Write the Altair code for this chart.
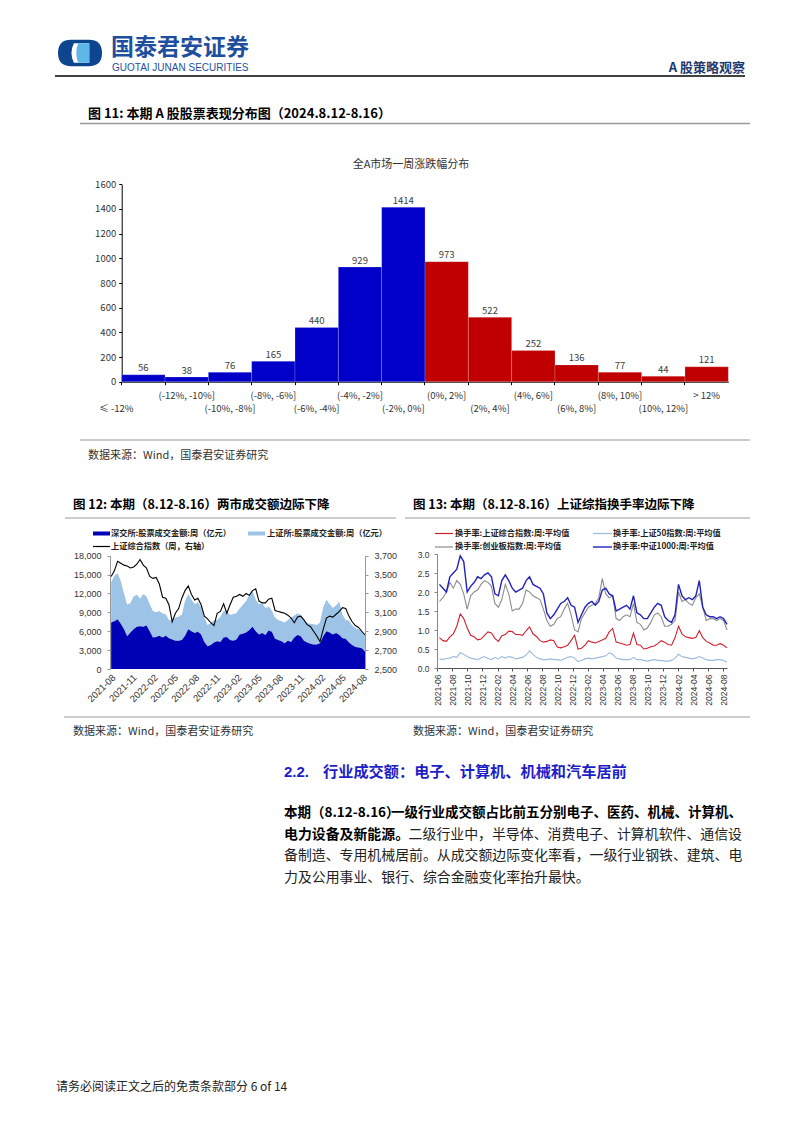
import altair as alt
import pandas as pd

CJK = "Noto Sans CJK SC"
ARIAL = "Liberation Sans"
PAGE_W, PAGE_H = 802, 1133

# ---------------- Figure 11: distribution of weekly returns ----------------
cats11 = ["≤ -12%", "(-12%, -10%]", "(-10%, -8%]", "(-8%, -6%]", "(-6%, -4%]",
          "(-4%, -2%]", "(-2%, 0%]", "(0%, 2%]", "(2%, 4%]", "(4%, 6%]",
          "(6%, 8%]", "(8%, 10%]", "(10%, 12%]", "> 12%"]
counts11 = [56, 38, 76, 165, 440, 929, 1414, 973, 522, 252, 136, 77, 44, 121]
sides11 = ["down"] * 7 + ["up"] * 7
yticks11 = [0, 200, 400, 600, 800, 1000, 1200, 1400, 1600]

# ---------------- Figure 12: weekly turnover (亿元) and SSE index ----------------
sz12 = [7400, 7600, 7900, 7200, 6300, 5200, 5800, 6300, 6700, 6800,
        6700, 6900, 6000, 5000, 5100, 5300, 5000, 5300, 4900, 4700,
        4500, 4500, 4600, 5300, 6300, 6000, 5700, 5900, 5500, 4300,
        3600, 3800, 4200, 4400, 4300, 5000, 5100, 4600, 4500, 4700,
        5500, 5600, 5800, 6200, 6700, 6000, 5500, 5700, 5400, 6100,
        5900, 4800, 4600, 4400, 4100, 4500, 4300, 5000, 5400, 5200,
        4500, 4200, 4000, 3900, 3900, 4100, 5200, 6000, 5800, 5500,
        5700, 5400, 4900, 4800, 4200, 3800, 3500, 3400, 3300, 2800]
sh12 = [6400, 7200, 7300, 6800, 5700, 5000, 4700, 5200, 5100, 4400,
        5200, 4600, 4300, 4200, 3900, 3900, 3800, 3400, 2900, 3000,
        3700, 3800, 4000, 5500, 5600, 5000, 4600, 4700, 4300, 3900,
        3400, 3500, 3500, 3400, 4000, 4200, 4000, 4000, 4200, 4200,
        4100, 4600, 5000, 5600, 5700, 5000, 4800, 4800, 4300, 3800,
        3400, 3400, 3200, 3200, 3300, 3300, 3900, 3500, 3400, 3400,
        3200, 3100, 3200, 3200, 3100, 3300, 4600, 5000, 4500, 4200,
        4400, 5300, 3700, 3000, 3500, 3100, 3000, 2900, 2700, 2600]
sse12 = [3480, 3540, 3640, 3620, 3600, 3590, 3570, 3580, 3610, 3660,
         3600, 3570, 3480, 3460, 3470, 3400, 3260, 3250, 3180, 3000,
         3090, 3140, 3250, 3330, 3380, 3290, 3230, 3250, 3180, 3060,
         3030, 2990, 2960, 3090, 3110, 3190, 3090, 3180, 3260, 3270,
         3290, 3270, 3300, 3280, 3330, 3350, 3220, 3200, 3200, 3240,
         3250, 3120, 3110, 3100, 3090, 3070, 3040, 2990, 3050, 3060,
         3020, 2970, 2950, 2900, 2850, 2790, 2920, 3040, 3060, 3050,
         3080, 3110, 3150, 3140, 3060, 3000, 2960, 2940, 2900, 2860]
dates12 = pd.date_range("2021-08-06", periods=len(sz12), freq="14D")
xticks12 = ["2021-08", "2021-11", "2022-02", "2022-05", "2022-08", "2022-11", "2023-02",
            "2023-05", "2023-08", "2023-11", "2024-02", "2024-05", "2024-08"]
yticks12L = [0, 3000, 6000, 9000, 12000, 15000, 18000]
yticks12R = [2500, 2700, 2900, 3100, 3300, 3500, 3700]

# ---------------- Figure 13: weekly average turnover rate (%) ----------------
tr_sse = [0.80, 0.72, 0.70, 0.82, 0.90, 1.10, 1.42, 1.30, 1.05, 0.86,
          0.82, 0.74, 0.76, 0.86, 0.95, 0.92, 0.78, 0.70, 0.85, 0.88,
          0.97, 0.96, 0.88, 0.88, 0.86, 0.98, 1.08, 0.90, 0.83, 0.72,
          0.68, 0.70, 0.74, 0.72, 0.55, 0.53, 0.56, 0.60, 0.72, 0.86,
          0.50, 0.52, 0.60, 0.72, 0.68, 0.66, 0.70, 0.74, 0.78, 0.95,
          1.04, 0.68, 0.66, 0.63, 0.60, 0.62, 0.92, 0.62, 0.60, 0.50,
          0.52, 0.56, 0.58, 0.64, 0.72, 0.68, 0.62, 0.60, 0.80, 1.10,
          0.90, 0.82, 0.80, 0.78, 0.80, 0.98, 0.80, 0.70, 0.66, 0.60,
          0.60, 0.64, 0.60, 0.53]
tr_50 = [0.24, 0.22, 0.25, 0.26, 0.30, 0.28, 0.40, 0.36, 0.30, 0.26,
         0.24, 0.22, 0.26, 0.30, 0.25, 0.22, 0.28, 0.24, 0.30, 0.26,
         0.30, 0.28, 0.24, 0.26, 0.28, 0.34, 0.45, 0.36, 0.28, 0.24,
         0.22, 0.22, 0.24, 0.22, 0.22, 0.20, 0.24, 0.28, 0.30, 0.26,
         0.17, 0.20, 0.24, 0.26, 0.24, 0.26, 0.28, 0.30, 0.32, 0.40,
         0.36, 0.26, 0.24, 0.22, 0.22, 0.22, 0.28, 0.22, 0.22, 0.20,
         0.18, 0.20, 0.22, 0.20, 0.20, 0.18, 0.18, 0.20, 0.26, 0.36,
         0.30, 0.28, 0.26, 0.24, 0.26, 0.30, 0.26, 0.22, 0.20, 0.20,
         0.22, 0.22, 0.20, 0.15]
tr_cyb = [1.75, 1.85, 2.00, 2.25, 2.10, 2.30, 2.20, 1.95, 1.55, 1.90,
          2.00, 2.05, 2.20, 2.30, 2.25, 2.15, 1.70, 1.60, 1.80, 2.20,
          1.95, 1.50, 1.55, 1.55, 1.70, 2.05, 2.00, 1.90, 1.85, 1.80,
          1.55, 1.25, 1.10, 1.15, 1.30, 1.35, 1.55, 1.70, 1.40, 1.00,
          0.95, 1.30, 1.45, 1.60, 1.65, 1.70, 1.85, 2.35, 1.95, 1.85,
          1.90, 1.30, 1.25, 1.35, 1.40, 1.35, 1.70, 1.20, 1.15, 1.00,
          1.05, 1.20, 1.40, 1.45, 1.35, 1.10, 1.10, 1.15, 1.25, 2.00,
          1.75, 1.80, 1.70, 1.65, 1.85, 1.95, 1.60, 1.25, 1.30, 1.30,
          1.25, 1.30, 1.25, 1.00]
tr_1000 = [2.20, 2.10, 2.00, 2.40, 2.50, 2.60, 2.95, 2.80, 2.00, 2.15,
           2.25, 2.40, 2.35, 2.45, 2.50, 2.40, 1.95, 1.90, 2.30, 2.45,
           2.30, 2.10, 2.00, 2.05, 2.10, 2.30, 2.40, 2.20, 2.15, 2.10,
           1.95, 1.45, 1.30, 1.40, 1.55, 1.70, 1.75, 1.85, 1.65, 1.60,
           1.20, 1.40, 1.60, 1.70, 1.75, 1.65, 1.75, 2.05, 2.10, 1.95,
           1.90, 1.50, 1.55, 1.60, 1.65, 1.55, 1.90, 1.45, 1.40, 1.30,
           1.30, 1.45, 1.60, 1.70, 1.65, 1.35, 1.25, 1.20, 1.40, 2.20,
           1.90, 1.80, 1.85, 1.80, 1.90, 2.30, 1.60, 1.40, 1.35, 1.35,
           1.30, 1.35, 1.30, 1.15]
dates13 = pd.date_range("2021-06-11", periods=len(tr_sse), freq="14D")
xticks13 = ["2021-06", "2021-08", "2021-10", "2021-12", "2022-02", "2022-04", "2022-06",
            "2022-08", "2022-10", "2022-12", "2023-02", "2023-04", "2023-06", "2023-08",
            "2023-10", "2023-12", "2024-02", "2024-04", "2024-06", "2024-08"]
yticks13 = [0.0, 0.5, 1.0, 1.5, 2.0, 2.5, 3.0]


def ym(s, day=1):
    y, m = s.split("-")
    return alt.DateTime(year=int(y), month=int(m), date=day)


dummy = pd.DataFrame({"k": [0]})


def text(x, y, s, size=12, weight="normal", color="#000000", align="left", font=CJK):
    return alt.Chart(dummy).mark_text(
        text=s, align=align, baseline="middle", fontSize=size, fontWeight=weight,
        color=color, font=font
    ).encode(x=alt.value(x), y=alt.value(y))


def hrule(x1, x2, y, color="#000000", width=1.0):
    return alt.Chart(dummy).mark_rule(color=color, strokeWidth=width).encode(
        x=alt.value(x1), x2=alt.value(x2), y=alt.value(y))


def swatch(x1, x2, y1, y2, color):
    return alt.Chart(dummy).mark_rect(color=color).encode(
        x=alt.value(x1), x2=alt.value(x2), y=alt.value(y1), y2=alt.value(y2))


def logo_part(path, color, size):
    return alt.Chart(dummy).mark_point(shape=path, size=size, filled=True, color=color,
                                       opacity=1, strokeWidth=0).encode(
        x=alt.value(80), y=alt.value(53))


layers = []
# header
layers.append(logo_part("M -0.4 -0.6 L 0.4 -0.6 Q 1 -0.6 1 0 Q 1 0.6 0.4 0.6 L -0.4 0.6 "
                        "Q -1 0.6 -1 0 Q -1 -0.6 -0.4 -0.6 Z", "#0E458F", 1936))
layers.append(logo_part("M -0.28 -0.44 L 0.42 -0.44 L 0.42 0.44 L -0.28 0.44 Q -0.5 0 -0.28 -0.44 Z",
                        "#FFFFFF", 1936))
layers.append(logo_part("M -0.08 -0.44 L 0.42 -0.44 L 0.42 0.44 L -0.08 0.44 Q -0.26 0 -0.08 -0.44 Z",
                        "#5FB6E8", 1936))
layers.append(text(111, 48, "国泰君安证券", size=23, weight="bold", color="#1E4F9F"))
layers.append(text(112, 67.5, "GUOTAI JUNAN SECURITIES", size=10, color="#1E4F9F", font=ARIAL))
layers.append(hrule(55, 745, 76, "#000000", 1.3))
layers.append(text(745, 68, "A 股策略观察", size=13, weight="bold", color="#1F3A6E", align="right"))

# figure 11 frame
layers.append(text(88, 114, "图 11: 本期 A 股股票表现分布图（2024.8.12-8.16）", size=13, weight="bold"))
layers.append(hrule(80, 750, 123.5, "#9A9A9A", 1.5))
layers.append(text(411, 165, "全A市场一周涨跌幅分布", size=11, color="#333333", align="center"))
layers.append(hrule(80, 750, 440, "#9A9A9A", 1.2))
layers.append(text(88, 456, "数据来源：Wind，国泰君安证券研究", size=11, color="#333333"))

# figure 12 / 13 frames
layers.append(text(73, 505, "图 12: 本期（8.12-8.16）两市成交额边际下降", size=12.5, weight="bold"))
layers.append(hrule(65, 396, 518, "#9A9A9A", 1.2))
layers.append(text(413, 505, "图 13: 本期（8.12-8.16）上证综指换手率边际下降", size=12.5, weight="bold"))
layers.append(hrule(405, 750, 518, "#9A9A9A", 1.2))
layers.append(hrule(64, 750, 717, "#9A9A9A", 1.2))
layers.append(text(73, 732, "数据来源：Wind，国泰君安证券研究", size=11, color="#333333"))
layers.append(text(413, 732, "数据来源：Wind，国泰君安证券研究", size=11, color="#333333"))

# figure 12 legend
layers.append(swatch(93, 110, 531.5, 535.5, "#0000B4"))
layers.append(text(111, 533.5, "深交所:股票成交金额:周（亿元）", size=8.2, weight="bold", color="#222222"))
layers.append(swatch(248, 265, 531.5, 535.5, "#9DC3E6"))
layers.append(text(267, 533.5, "上证所:股票成交金额:周（亿元）", size=8.2, weight="bold", color="#222222"))
layers.append(hrule(93, 110, 546.5, "#000000", 1.2))
layers.append(text(111, 546.5, "上证综合指数（周，右轴）", size=8.2, weight="bold", color="#222222"))

# figure 13 legend
layers.append(hrule(435, 453, 533.5, "#D0202E", 1.2))
layers.append(text(455, 533.5, "换手率:上证综合指数:周:平均值", size=8.2, weight="bold", color="#222222"))
layers.append(hrule(593, 612, 533.5, "#9DBBDD", 1.2))
layers.append(text(613, 533.5, "换手率:上证50指数:周:平均值", size=8.2, weight="bold", color="#222222"))
layers.append(hrule(435, 453, 547, "#8C8C8C", 1.2))
layers.append(text(455, 547, "换手率:创业板指数:周:平均值", size=8.2, weight="bold", color="#222222"))
layers.append(hrule(593, 612, 547, "#2222C0", 1.4))
layers.append(text(613, 547, "换手率:中证1000:周:平均值", size=8.2, weight="bold", color="#222222"))

# section text
BLUE = "#1E1EC8"
layers.append(text(284, 772, "2.2.", size=15, weight="bold", color=BLUE, font=ARIAL))
layers.append(text(323, 772, "行业成交额：电子、计算机、机械和汽车居前", size=15.2, weight="bold", color=BLUE))
layers.append(text(284, 812.5, "本期（8.12-8.16）", size=13.5, weight="bold"))
layers.append(text(742, 812.5, "一级行业成交额占比前五分别电子、医药、机械、计算机、", size=13.5,
                   weight="bold", align="right"))
layers.append(text(284, 834.5, "电力设备及新能源。", size=13.9, weight="bold"))
layers.append(text(742, 834.5, "二级行业中，半导体、消费电子、计算机软件、通信设", size=13.9,
                   color="#222222", align="right"))
layers.append(text(284, 856, "备制造、专用机械居前。从成交额边际变化率看，一级行业钢铁、建筑、电",
                   size=13.9, color="#222222"))
layers.append(text(284, 877.5, "力及公用事业、银行、综合金融变化率抬升最快。", size=13.9, color="#222222"))

# footer
layers.append(text(56, 1087, "请务必阅读正文之后的免责条款部分 6 of 14", size=12, color="#222222"))

# ---------------- chart 11 ----------------
df11 = pd.DataFrame({
    "cat": cats11, "n": counts11, "side": sides11,
    "row": ["lower" if i % 2 == 0 else "upper" for i in range(len(cats11))],
})


def X11(axis=None):
    return alt.X("cat:N", sort=cats11, axis=axis,
                 scale=alt.Scale(domain=cats11, range=[121.7, 728.3], paddingInner=0, paddingOuter=0))


def Y11(axis=None):
    return alt.Y("n:Q", axis=axis, scale=alt.Scale(domain=[0, 1600], range=[381.7, 184.3], nice=False))


layers.append(alt.Chart(df11).mark_bar(stroke="#FFFFFF", strokeWidth=0.3, strokeOpacity=0.6).encode(
    x=X11(alt.Axis(orient="bottom", offset=381.7 - PAGE_H, labels=False, ticks=True, tickSize=3,
                   bandPosition=0, domainColor="#000000", tickColor="#000000", title=None, grid=False)),
    y=Y11(alt.Axis(orient="left", offset=-121.7, values=yticks11, format="d", tickSize=3,
                   labelPadding=3, labelFont=CJK, labelFontSize=9.5, labelColor="#333333",
                   domainColor="#000000", tickColor="#000000", title=None, grid=False)),
    color=alt.Color("side:N", scale=alt.Scale(domain=["down", "up"], range=["#0000C8", "#C00000"]),
                    legend=None),
))
layers.append(alt.Chart(df11).mark_text(baseline="bottom", dy=-1.5, fontSize=9.5, color="#404040",
                                        font=CJK).encode(
    x=X11(), y=Y11(), text=alt.Text("n:Q", format="d")))
layers.append(alt.Chart(df11).transform_filter("datum.row == 'upper'").mark_text(
    baseline="middle", fontSize=9.5, color="#333333", font=CJK).encode(
    x=X11(), y=alt.value(395.7), text="cat:N"))
layers.append(alt.Chart(df11).transform_filter("datum.row == 'lower' && datum.cat != '≤ -12%'").mark_text(
    baseline="middle", fontSize=9.5, color="#333333", font=CJK).encode(
    x=X11(), y=alt.value(408.5), text="cat:N"))
layers.append(alt.Chart(df11).transform_filter("datum.cat == '≤ -12%'").mark_text(
    baseline="middle", fontSize=9.5, color="#333333", font=CJK, dx=-27).encode(
    x=X11(), y=alt.value(408.5), text="cat:N"))

# ---------------- chart 12 ----------------
df12 = pd.DataFrame({"date": dates12, "sz": sz12, "sh": sh12, "idx": sse12})


def X12(axis=None):
    return alt.X("date:T", axis=axis,
                 scale=alt.Scale(domain=[ym("2021-08"), ym("2024-08", 16)], range=[110, 365]))


def SL12():
    return alt.Scale(domain=[0, 18000], range=[669, 555.7], nice=False)


ax12x = alt.Axis(orient="bottom", offset=669 - PAGE_H, values=[ym(t) for t in xticks12], format="%Y-%m",
                 labelAngle=-45, labelFont=ARIAL, labelFontSize=9.5, labelColor="#333333",
                 labelPadding=3, ticks=False, domain=False, labelFlush=False, labelOverlap=False,
                 title=None, grid=False)
ax12L = alt.Axis(orient="left", offset=-110, values=yticks12L, format=",.0f", tickSize=3,
                 labelFont=ARIAL, labelFontSize=9, labelColor="#333333", labelPadding=6,
                 domainColor="#999999", tickColor="#999999", title=None, grid=False)
ax12R = alt.Axis(orient="right", offset=365 - PAGE_W, values=yticks12R, format=",.0f", tickSize=3,
                 labelFont=ARIAL, labelFontSize=9, labelColor="#333333", labelPadding=6,
                 domainColor="#999999", tickColor="#999999", title=None, grid=False)

layers.append(alt.Chart(df12).transform_calculate(tot="datum.sz + datum.sh").mark_area(
    color="#9DC3E6", opacity=1).encode(
    x=X12(ax12x), y=alt.Y("tot:Q", scale=SL12(), axis=ax12L), y2="sz:Q"))
layers.append(alt.Chart(df12).mark_area(color="#0000B4", opacity=1).encode(
    x=X12(), y=alt.Y("sz:Q", scale=SL12(), axis=None)))
layers.append(alt.Chart(df12).mark_line(color="#000000", strokeWidth=1.1).encode(
    x=X12(),
    y=alt.Y("idx:Q", axis=ax12R, scale=alt.Scale(domain=[2500, 3700], range=[669, 555.7], nice=False))))

# ---------------- chart 13 ----------------
df13 = pd.DataFrame({"date": dates13, "sse": tr_sse, "s50": tr_50, "cyb": tr_cyb, "c1000": tr_1000})
ax13x = alt.Axis(orient="bottom", offset=668 - PAGE_H, values=[ym(t) for t in xticks13], format="%Y-%m",
                 labelAngle=-90, labelFont=ARIAL, labelFontSize=8.5, labelColor="#333333",
                 labelPadding=3, tickSize=3, domainColor="#555555", tickColor="#555555",
                 labelFlush=False, labelOverlap=False, title=None, grid=False)
ax13y = alt.Axis(orient="left", offset=-437, values=yticks13, format=".1f", tickSize=3,
                 labelFont=ARIAL, labelFontSize=8.5, labelColor="#333333", labelPadding=5,
                 domainColor="#888888", tickColor="#888888", title=None, grid=False)


def line13(field, color, width, first=False):
    return alt.Chart(df13).mark_line(color=color, strokeWidth=width).encode(
        x=alt.X("date:T", axis=ax13x if first else None,
                scale=alt.Scale(domain=[ym("2021-06"), ym("2024-08", 16)], range=[437, 727])),
        y=alt.Y(field + ":Q", axis=ax13y if first else None,
                scale=alt.Scale(domain=[0, 3], range=[668, 554], nice=False)),
    )


layers += [
    line13("sse", "#D0202E", 1.1, first=True),
    line13("s50", "#9DBBDD", 1.1),
    line13("cyb", "#8C8C8C", 1.1),
    line13("c1000", "#2222C0", 1.4),
]

page = alt.LayerChart(layer=layers).resolve_scale(
    x="independent", y="independent", color="independent"
).properties(
    width=PAGE_W, height=PAGE_H, autosize=alt.AutoSizeParams(type="none"), padding=0,
    background="white",
).configure_view(strokeWidth=0)

page.save("out.html", embed_options={"renderer": "svg", "actions": False})
